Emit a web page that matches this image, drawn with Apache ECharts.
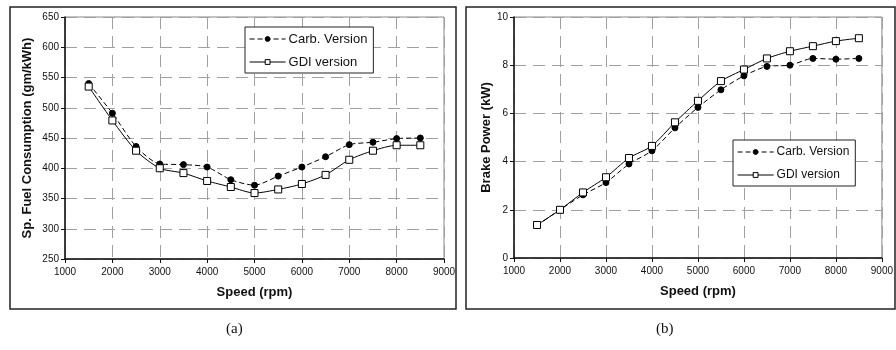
<!DOCTYPE html>
<html>
<head>
<meta charset="utf-8">
<script src="https://cdn.jsdelivr.net/npm/echarts@6/dist/echarts.min.js"></script>
<style>
  html, body { margin: 0; padding: 0; background: #fff; }
  #chart { width: 896px; height: 350px; }
</style>
</head>
<body>
<div id="chart"></div>
<script>
// speed (rpm) – shared x values for both panels
const speed = [1500, 2000, 2500, 3000, 3500, 4000, 4500, 5000, 5500, 6000, 6500, 7000, 7500, 8000, 8500];

// (a) specific fuel consumption, gm/kWh
const sfcCarb = [540, 491, 436, 407, 406, 402, 381, 372, 387, 402, 419, 439, 443, 449, 450];
const sfcGdi = [535, 479, 429, 400, 392, 379, 369, 359, 365, 374, 389, 414, 429, 438, 438];

// (b) brake power, kW
const bpCarb = [1.35, 2.0, 2.62, 3.13, 3.9, 4.45, 5.4, 6.25, 6.98, 7.56, 7.95, 8.0, 8.28, 8.25, 8.28];
const bpGdi = [1.37, 2.0, 2.72, 3.35, 4.15, 4.65, 5.63, 6.52, 7.34, 7.82, 8.28, 8.58, 8.79, 9.0, 9.12];

const seriesNames = ["Carb. Version", "GDI version"];
const panelLabels = ["(a)", "(b)"];

const zip = (xs, ys) => xs.map((x, i) => [x, ys[i]]);

const font = "Liberation Sans, Arial, sans-serif";
const gridLine = { show: true, lineStyle: { color: "#a0a0a0", type: [12, 7], width: 1 } };

function xAxisFor(gridIndex) {
  return {
    type: "value",
    gridIndex,
    min: 1000,
    max: 9000,
    interval: 1000,
    name: "Speed (rpm)",
    nameLocation: "middle",
    nameGap: 27,
    nameTextStyle: { fontFamily: font, fontWeight: "bold", fontSize: 13, color: "#111" },
    axisLine: { lineStyle: { color: "#111", width: 1.5 } },
    axisTick: { lineStyle: { color: "#111" }, length: 4 },
    axisLabel: { fontFamily: font, fontSize: 10, color: "#111", margin: 8, formatter: (v) => String(v) },
    splitLine: gridLine,
  };
}

function yAxisFor(gridIndex, name, min, max, interval, nameGap) {
  return {
    type: "value",
    gridIndex,
    min,
    max,
    interval,
    name,
    nameLocation: "middle",
    nameGap,
    nameTextStyle: { fontFamily: font, fontWeight: "bold", fontSize: 13, color: "#111" },
    axisLine: { show: true, lineStyle: { color: "#111", width: 1.5 } },
    axisTick: { show: true, lineStyle: { color: "#111" }, length: 4 },
    axisLabel: { fontFamily: font, fontSize: 10, color: "#111", margin: 6, formatter: (v) => String(v) },
    splitLine: gridLine,
  };
}

function carbSeries(idx, data) {
  return {
    name: seriesNames[0],
    type: "line",
    xAxisIndex: idx,
    yAxisIndex: idx,
    data,
    smooth: 0.25,
    symbol: "circle",
    symbolSize: 6,
    itemStyle: { color: "#000", borderColor: "#000" },
    lineStyle: { color: "#000", width: 1, type: [5, 3] },
    z: 3,
  };
}

function gdiSeries(idx, data) {
  return {
    name: seriesNames[1],
    type: "line",
    xAxisIndex: idx,
    yAxisIndex: idx,
    data,
    smooth: 0.25,
    symbol: "rect",
    symbolSize: 7,
    itemStyle: { color: "#fff", borderColor: "#000", borderWidth: 1 },
    lineStyle: { color: "#000", width: 1 },
    z: 4,
  };
}

function legendAt(left, top, fontSize) {
  return {
    orient: "vertical",
    left,
    top,
    data: seriesNames,
    itemWidth: 36,
    itemHeight: 6,
    itemGap: 9,
    padding: [5, 6, 4, 4],
    borderColor: "#222",
    borderWidth: 1,
    backgroundColor: "#fff",
    selectedMode: false,
    itemStyle: { borderWidth: 1 },
    lineStyle: { width: 1.2 },
    textStyle: { fontFamily: font, fontSize, color: "#111", lineHeight: 14, padding: [0, 0, 0, -2] },
  };
}

const chart = echarts.init(document.getElementById("chart"), null, { renderer: "canvas" });

chart.setOption({
  backgroundColor: "#fff",
  animation: false,
  grid: [
    { left: 65, right: 452, top: 17, bottom: 91, show: true, borderColor: "#888", borderWidth: 1 },
    { left: 514, right: 8, top: 17, bottom: 92, show: true, borderColor: "#888", borderWidth: 1 },
  ],
  xAxis: [xAxisFor(0), xAxisFor(1)],
  yAxis: [
    yAxisFor(0, "Sp. Fuel Consumption (gm/kWh)", 250, 650, 50, 31),
    yAxisFor(1, "Brake Power (kW)", 0, 10, 2, 20),
  ],
  legend: [legendAt(245, 27, 13), legendAt(733, 140, 12)],
  graphic: [
    { type: "rect", shape: { x: 10, y: 7, width: 446, height: 302 }, style: { fill: "none", stroke: "#222", lineWidth: 1.5 }, z: -1 },
    { type: "rect", shape: { x: 466, y: 7, width: 429, height: 302 }, style: { fill: "none", stroke: "#222", lineWidth: 1.5 }, z: -1 },
    { type: "text", left: 226, top: 322, style: { text: panelLabels[0], font: "15px 'Liberation Serif', 'Times New Roman', serif", fill: "#111" } },
    { type: "text", left: 656, top: 322, style: { text: panelLabels[1], font: "15px 'Liberation Serif', 'Times New Roman', serif", fill: "#111" } },
  ],
  series: [
    carbSeries(0, zip(speed, sfcCarb)),
    gdiSeries(0, zip(speed, sfcGdi)),
    carbSeries(1, zip(speed, bpCarb)),
    gdiSeries(1, zip(speed, bpGdi)),
  ],
});
</script>
</body>
</html>
